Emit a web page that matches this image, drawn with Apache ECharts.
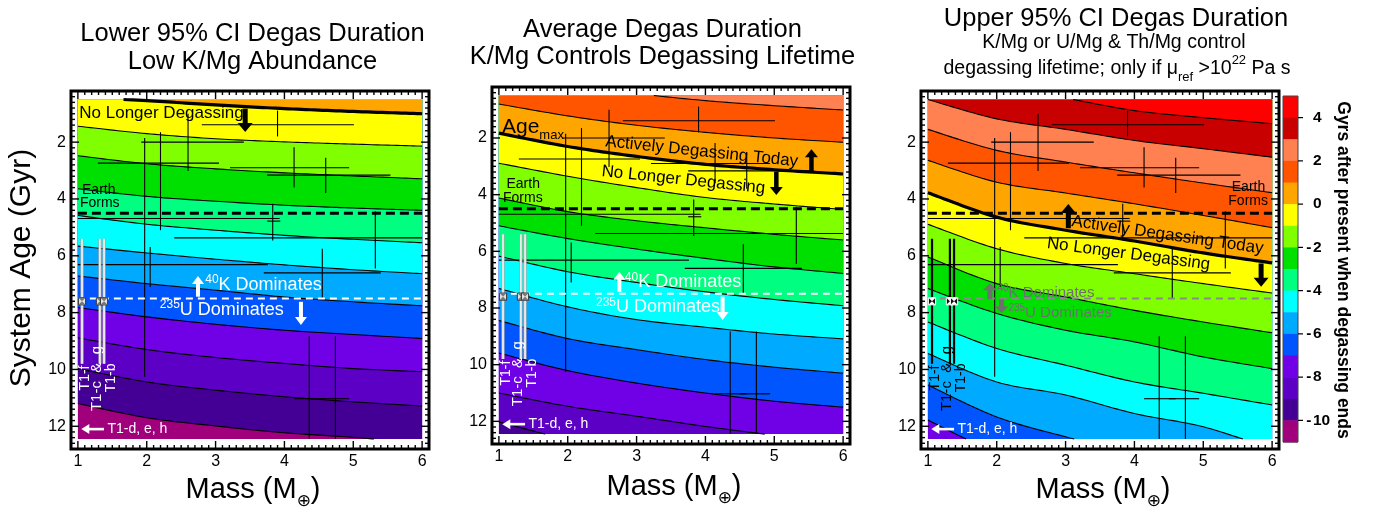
<!DOCTYPE html>
<html>
<head>
<meta charset="utf-8">
<script src="https://cdn.jsdelivr.net/npm/echarts@6/dist/echarts.min.js"></script>
<style>
  html, body { margin: 0; padding: 0; background: #ffffff; }
  #chart { width: 1383px; height: 512px; }
</style>
</head>
<body>
<div id="chart"></div>
<script>
// ---------------------------------------------------------------------------
// Data: degassing-lifetime contours (age in Gyr at each planet mass)
// ---------------------------------------------------------------------------
const masses = [1, 2, 3, 4, 5, 6];

// Lower 95% CI degas duration (low K/Mg abundance)
const lowerLevels = [0, -1, -2, -3, -4, -5, -6, -7, -8, -9, -10];
const lowerAges = [
  [0.43, 0.54, 0.69, 0.82, 0.92, 1.00],
  [1.44, 1.70, 1.88, 1.99, 2.07, 2.14],
  [2.48, 2.76, 2.94, 3.08, 3.19, 3.29],
  [3.64, 3.91, 4.08, 4.22, 4.32, 4.40],
  [4.58, 4.89, 5.10, 5.28, 5.42, 5.54],
  [5.66, 5.90, 6.12, 6.32, 6.49, 6.63],
  [6.71, 6.98, 7.21, 7.45, 7.62, 7.76],
  [7.82, 8.15, 8.41, 8.62, 8.77, 8.91],
  [8.89, 9.30, 9.58, 9.79, 9.97, 10.08],
  [9.97, 10.44, 10.73, 10.96, 11.14, 11.29],
  [11.20, 11.70, 11.99, 12.23, 12.39, 12.60]
];

// Average degas duration (K/Mg controls degassing lifetime)
const averageLevels = [2, 1, 0, -1, -2, -3, -4, -5, -6, -7, -8, -9];
const averageAges = [
  [-0.20, 0.10, 0.43, 0.68, 0.86, 1.01],
  [0.80, 1.22, 1.55, 1.80, 2.00, 2.15],
  [1.83, 2.30, 2.65, 2.93, 3.12, 3.27],
  [2.89, 3.35, 3.75, 4.10, 4.33, 4.52],
  [4.12, 4.60, 4.92, 5.17, 5.40, 5.60],
  [5.10, 5.55, 5.92, 6.25, 6.55, 6.78],
  [6.17, 6.72, 7.10, 7.43, 7.70, 7.92],
  [7.31, 7.96, 8.41, 8.68, 8.92, 9.09],
  [8.44, 9.08, 9.47, 9.82, 10.09, 10.30],
  [9.59, 10.21, 10.65, 11.00, 11.29, 11.50],
  [11.00, 11.47, 11.82, 12.18, 12.49, 12.75],
  [12.02, 12.65, 13.20, 13.60, 14.00, 14.30]
];

// Upper 95% CI degas duration
const upperLevels = [4, 3, 2, 1, 0, -1, -2, -3, -4, -5, -6, -7];
const upperAges = [
  [-0.50, 0.00, 0.45, 0.89, 1.14, 1.35],
  [0.50, 1.18, 1.55, 1.94, 2.23, 2.53],
  [1.55, 2.29, 2.70, 3.08, 3.44, 3.78],
  [2.64, 3.41, 3.79, 4.17, 4.58, 5.01],
  [3.78, 4.64, 5.10, 5.48, 5.90, 6.25],
  [4.89, 5.75, 6.27, 6.63, 6.98, 7.31],
  [6.04, 6.98, 7.45, 7.92, 8.33, 8.71],
  [7.15, 8.03, 8.62, 9.03, 9.56, 9.97],
  [8.33, 9.26, 9.85, 10.44, 10.84, 11.25],
  [9.44, 10.44, 10.90, 11.55, 12.02, 12.80],
  [10.55, 11.67, 12.37, 12.95, 13.40, 13.80],
  [11.78, 12.95, 13.80, 14.50, 15.00, 15.50]
];

// Colour bar: lower bound of each 1-Gyr band, and labelled values
const colorbarLows = [4, 3, 2, 1, 0, -1, -2, -3, -4, -5, -6, -7, -8, -9, -10, -11];
const colorbarTicks = [4, 2, 0, -2, -4, -6, -8, -10];

// Axis tick labels
const massTicks = [1, 2, 3, 4, 5, 6];
const ageTicks = [2, 4, 6, 8, 10, 12];

// Rocky exoplanets: mass (Earth masses) and system age (Gyr) with error ranges
const planetMass     = [3.90, 2.60, 2.20, 1.97, 2.05, 4.14, 4.60, 3.83, 5.32, 4.55, 4.36, 4.74];
const planetMassLow  = [2.80, 1.29, 1.92, 1.00, 1.00, 3.21, 3.75, 3.75, 2.40, 3.70, 4.14, 4.50];
const planetMassHigh = [5.01, 3.05, 3.41, 3.93, 3.76, 4.94, 5.54, 3.94, 6.00, 5.40, 4.60, 4.94];
const planetAge      = [1.39, 2.74, 2.00, 4.69, 6.31, 2.90, 3.16, 4.78, 5.37, 6.60, 11.03, 11.03];
const planetAgeLow   = [0.89, 1.00, 1.65, 1.85, 5.69, 2.18, 2.55, 4.17, 4.43, 5.75, 8.83, 8.83];
const planetAgeHigh  = [1.80, 3.02, 5.10, 10.26, 7.10, 3.60, 3.79, 5.46, 6.45, 7.50, 12.50, 12.50];

// TRAPPIST-1 planets f, c & g, b
const trappistMass    = [1.06, 1.32, 1.38];
const trappistAge     = [7.6, 7.6, 7.6];
const trappistAgeLow  = [5.4, 5.4, 5.4];
const trappistAgeHigh = [9.8, 9.8, 9.8];

const earthFormsAge = 4.5;     // Gyr ago the Earth formed
const crossoverAge = 7.5;      // 40K / 235U dominance switch

// ---------------------------------------------------------------------------
// Styling
// ---------------------------------------------------------------------------
const FONT = '"Liberation Sans", Arial, Helvetica, sans-serif';
// colours for bands [4,5], [3,4], ... [-11,-10]
const palette = ['#ff0000', '#c80000', '#ff8050', '#ff5500', '#ffa500', '#ffff00',
                 '#80ff00', '#00e000', '#00ff80', '#00ffff', '#00aaff', '#0055ff',
                 '#7000e6', '#5c00c6', '#440094', '#a0007c'];
function bandColor(low) { return palette[4 - low]; }

const DATA_X = [1, 6];
const DATA_Y = [0.5, 12.45];

// Catmull-Rom curve through pixel points
function smoothPath(pts, steps) {
  const out = [];
  for (let i = 0; i < pts.length - 1; i++) {
    const p0 = pts[Math.max(i - 1, 0)], p1 = pts[i], p2 = pts[i + 1], p3 = pts[Math.min(i + 2, pts.length - 1)];
    for (let s = 0; s < steps; s++) {
      const t = s / steps, t2 = t * t, t3 = t2 * t;
      const f = (a, b, c, d) => 0.5 * (2 * b + (-a + c) * t + (2 * a - 5 * b + 4 * c - d) * t2 + (-a + 3 * b - 3 * c + d) * t3);
      out.push([f(p0[0], p1[0], p2[0], p3[0]), f(p0[1], p1[1], p2[1], p3[1])]);
    }
  }
  out.push(pts[pts.length - 1].slice());
  return out;
}

// split a polyline into the parts lying between two horizontal pixel rows
function clipY(pts, y0, y1) {
  const out = [];
  let cur = [];
  const inside = p => p[1] >= y0 && p[1] <= y1;
  for (let i = 0; i < pts.length; i++) {
    const p = pts[i], pin = inside(p);
    if (i > 0) {
      const q = pts[i - 1], qin = inside(q);
      if (pin !== qin) {
        const yb = pin ? (q[1] < y0 ? y0 : y1) : (p[1] < y0 ? y0 : y1);
        const t = (yb - q[1]) / (p[1] - q[1]);
        const ip = [q[0] + t * (p[0] - q[0]), yb];
        if (pin) { cur = [ip]; } else { cur.push(ip); if (cur.length > 1) out.push(cur); cur = []; }
      }
    }
    if (pin) cur.push(p);
  }
  if (cur.length > 1) out.push(cur);
  return out;
}

function contourPixels(api, row) {
  return smoothPath(masses.map((m, j) => api.coord([m, row[j]])), 16);
}

function dataRect(api) {
  return [api.coord([DATA_X[0], DATA_Y[0]]), api.coord([DATA_X[1], DATA_Y[1]])];
}

function renderBands(api, levels, ages) {
  const [tl, br] = dataRect(api);
  const kids = [{
    type: 'rect',
    shape: { x: tl[0], y: tl[1], width: br[0] - tl[0], height: br[1] - tl[1] },
    style: { fill: bandColor(levels[levels.length - 1] - 1) }
  }];
  for (let k = levels.length - 1; k >= 0; k--) {
    const curve = contourPixels(api, ages[k]).map(p => [p[0], Math.min(Math.max(p[1], tl[1]), br[1])]);
    kids.push({
      type: 'polygon',
      shape: { points: [[tl[0], tl[1]]].concat(curve, [[br[0], tl[1]]]) },
      style: { fill: bandColor(levels[k]) }
    });
  }
  return { type: 'group', children: kids };
}

function renderContours(api, levels, ages) {
  const [tl, br] = dataRect(api);
  const kids = [];
  levels.forEach((lv, k) => {
    clipY(contourPixels(api, ages[k]), tl[1], br[1]).forEach(piece => {
      kids.push({
        type: 'polyline',
        shape: { points: piece },
        style: { fill: 'none', stroke: '#000', lineWidth: lv === 0 ? 3.2 : 1.1 }
      });
    });
  });
  return { type: 'group', children: kids };
}

function seg(api, a, b, style) {
  const p = api.coord(a), q = api.coord(b);
  return { type: 'line', shape: { x1: p[0], y1: p[1], x2: q[0], y2: q[1] }, style: style };
}

function clampX(v) { return Math.min(Math.max(v, DATA_X[0]), DATA_X[1]); }
function clampY(v) { return Math.min(Math.max(v, DATA_Y[0]), DATA_Y[1]); }

function renderPlanets(api) {
  const kids = [];
  const st = { stroke: '#000', lineWidth: 1.1 };
  planetMass.forEach((m, i) => {
    kids.push(seg(api, [clampX(planetMassLow[i]), planetAge[i]], [clampX(planetMassHigh[i]), planetAge[i]], st));
    kids.push(seg(api, [m, clampY(planetAgeLow[i])], [m, clampY(planetAgeHigh[i])], st));
  });
  return { type: 'group', children: kids };
}

function renderGuides(api, crossColor) {
  return {
    type: 'group', children: [
      seg(api, [DATA_X[0], earthFormsAge], [DATA_X[1], earthFormsAge], { stroke: '#000', lineWidth: 3, lineDash: [9, 5] }),
      seg(api, [DATA_X[0], crossoverAge], [DATA_X[1], crossoverAge], { stroke: crossColor, lineWidth: 2, lineDash: [7, 5] })
    ]
  };
}

function renderTrappist(api, dark) {
  const kids = [];
  trappistMass.forEach((m, i) => {
    const a = [m, trappistAgeLow[i]], b = [m, trappistAgeHigh[i]];
    if (dark) {
      kids.push(seg(api, a, b, { stroke: '#000', lineWidth: 2.2 }));
    } else {
      kids.push(seg(api, a, b, { stroke: '#a8a8a8', lineWidth: 3.2 }));
      kids.push(seg(api, a, b, { stroke: '#ffffff', lineWidth: 1.4 }));
    }
  });
  trappistMass.forEach((m, i) => {
    const p = api.coord([m, trappistAge[i]]);
    const r = 3.6;
    kids.push({
      type: 'rect', shape: { x: p[0] - r, y: p[1] - r, width: 2 * r, height: 2 * r },
      style: { fill: dark ? '#111' : '#e2e2e2', stroke: dark ? '#fff' : '#333', lineWidth: 1 }
    });
    kids.push({
      type: 'polygon',
      shape: { points: [[p[0] - r, p[1] - r], [p[0] + r, p[1] - r], [p[0] - r, p[1] + r], [p[0] + r, p[1] + r]] },
      style: { fill: dark ? '#fff' : '#777' }
    });
  });
  return { type: 'group', children: kids };
}

function label(api, m, a, text, o) {
  const p = api.coord([m, a]);
  const color = o.color || '#000';
  return {
    type: 'text', x: p[0], y: p[1], rotation: o.rotation || 0,
    style: {
      text: text, fill: color, fontSize: o.size, fontFamily: FONT, fontWeight: o.weight || 'normal',
      align: o.align || 'left', verticalAlign: 'middle', rich: o.rich
    }
  };
}

function superLabel(api, m, a, sup, main, color, size) {
  return label(api, m, a, '{s|' + sup + '}{n|' + main + '}', {
    size: size, color: color,
    rich: {
      s: { fontSize: Math.round(size * 0.66), fontFamily: FONT, fill: color, verticalAlign: 'top' },
      n: { fontSize: size, fontFamily: FONT, fill: color, lineHeight: size + 4 }
    }
  });
}

function arrow(api, from, to, color, shaft, headW, headL) {
  const p0 = api.coord(from), p1 = api.coord(to);
  const dx = p1[0] - p0[0], dy = p1[1] - p0[1], len = Math.hypot(dx, dy);
  const ux = dx / len, uy = dy / len, nx = -uy, ny = ux;
  const bx = p1[0] - ux * headL, by = p1[1] - uy * headL;
  return {
    type: 'group', children: [
      { type: 'line', shape: { x1: p0[0], y1: p0[1], x2: bx + ux, y2: by + uy }, style: { stroke: color, lineWidth: shaft } },
      { type: 'polygon', shape: { points: [[p1[0], p1[1]], [bx + nx * headW / 2, by + ny * headW / 2], [bx - nx * headW / 2, by - ny * headW / 2]] }, style: { fill: color } }
    ]
  };
}

function trappistLabels(api, color) {
  const rot = Math.PI / 2;
  return [
    label(api, 1.10, 10.30, 'T1-f', { size: 14, color: color, rotation: rot, align: 'center' }),
    label(api, 1.28, 10.32, 'T1-c  &  g', { size: 15, color: color, rotation: rot, align: 'center' }),
    label(api, 1.48, 10.30, 'T1-b', { size: 14, color: color, rotation: rot, align: 'center' }),
    arrow(api, [1.38, 12.1], [1.05, 12.1], '#fff', 2.6, 10, 8),
    label(api, 1.43, 12.1, 'T1-d, e, h', { size: 14, color: '#fff' })
  ];
}

const ROT_AVG = -6 * Math.PI / 180;
const ROT_UP1 = -8.2 * Math.PI / 180;
const ROT_UP2 = -7.5 * Math.PI / 180;
const GREY = '#6f6f6f';

function notesLower(api) {
  return [
    label(api, 1.02, 0.99, 'No Longer Degassing', { size: 17 }),
    arrow(api, [3.43, 0.82], [3.43, 1.64], '#000', 5, 15, 9),
    label(api, 1.06, 3.68, 'Earth', { size: 14 }),
    label(api, 1.03, 4.16, 'Forms', { size: 14 }),
    superLabel(api, 2.85, 7.03, '40', 'K Dominates', '#fff', 18),
    arrow(api, [2.745, 7.44], [2.745, 6.71], '#fff', 4, 12, 8),
    superLabel(api, 2.19, 7.90, '235', 'U Dominates', '#fff', 18),
    arrow(api, [4.24, 7.62], [4.24, 8.44], '#fff', 4, 12, 8)
  ].concat(trappistLabels(api, '#fff'));
}

function notesAverage(api) {
  return [
    label(api, 1.045, 1.61, '{a|Age}{b|max}', {
      size: 21,
      rich: {
        a: { fontSize: 21, fontFamily: FONT, fill: '#000', lineHeight: 30 },
        b: { fontSize: 13, fontFamily: FONT, fill: '#000', verticalAlign: 'bottom' }
      }
    }),
    label(api, 3.946, 2.48, 'Actively Degassing Today', { size: 17, align: 'center', rotation: ROT_AVG }),
    label(api, 3.68, 3.48, 'No Longer Degassing', { size: 17, align: 'center', rotation: ROT_AVG }),
    arrow(api, [5.54, 3.19], [5.54, 2.40], '#000', 4.5, 13, 8),
    arrow(api, [5.03, 3.19], [5.03, 4.01], '#000', 4.5, 13, 8),
    label(api, 1.11, 3.63, 'Earth', { size: 14 }),
    label(api, 1.06, 4.13, 'Forms', { size: 14 }),
    superLabel(api, 2.83, 7.09, '40', 'K Dominates', '#fff', 18),
    arrow(api, [2.75, 7.43], [2.75, 6.72], '#fff', 4, 12, 8),
    superLabel(api, 2.41, 7.98, '235', 'U Dominates', '#fff', 18),
    arrow(api, [4.25, 7.60], [4.25, 8.42], '#fff', 4, 12, 8)
  ].concat(trappistLabels(api, '#fff'));
}

function notesUpper(api) {
  return [
    label(api, 5.90, 3.59, 'Earth', { size: 14, align: 'right' }),
    label(api, 5.94, 4.06, 'Forms', { size: 14, align: 'right' }),
    arrow(api, [3.04, 5.03], [3.04, 4.18], '#000', 5, 15, 9),
    label(api, 4.48, 5.27, 'Actively Degassing Today', { size: 17, align: 'center', rotation: ROT_UP1 }),
    label(api, 3.915, 5.94, 'No Longer Degassing', { size: 17, align: 'center', rotation: ROT_UP2 }),
    arrow(api, [5.84, 6.27], [5.84, 7.09], '#000', 5, 15, 9),
    superLabel(api, 2.01, 7.30, '40', 'K Dominates', GREY, 15),
    arrow(api, [1.90, 7.53], [1.90, 6.97], GREY, 5, 14, 7),
    superLabel(api, 2.17, 8.02, '235', 'U Dominates', GREY, 15),
    arrow(api, [2.07, 7.53], [2.07, 8.02], GREY, 5, 14, 7)
  ].concat(trappistLabels(api, '#000'));
}

function renderFrame(api) {
  const p0 = api.coord([0.9, 0.2]), p1 = api.coord([6.1, 12.8]);
  const kids = [{
    type: 'rect', shape: { x: p0[0], y: p0[1], width: p1[0] - p0[0], height: p1[1] - p0[1] },
    style: { fill: 'none', stroke: '#000', lineWidth: 3 }
  }];
  const tick = { stroke: '#000', lineWidth: 1.4 };
  for (let i = 10; i <= 60; i++) {
    const v = i / 10, x = api.coord([v, 1])[0];
    const len = massTicks.indexOf(v) >= 0 ? 8 : 4;
    kids.push({ type: 'line', shape: { x1: x, y1: p1[1], x2: x, y2: p1[1] - len }, style: tick });
    kids.push({ type: 'line', shape: { x1: x, y1: p0[1], x2: x, y2: p0[1] + len }, style: tick });
  }
  for (let i = 2; i <= 63; i++) {
    const v = i / 5, y = api.coord([1, v])[1];
    const len = ageTicks.indexOf(v) >= 0 ? 8 : 4;
    kids.push({ type: 'line', shape: { x1: p0[0], y1: y, x2: p0[0] + len, y2: y }, style: tick });
    kids.push({ type: 'line', shape: { x1: p1[0], y1: y, x2: p1[0] - len, y2: y }, style: tick });
  }
  massTicks.forEach(v => {
    const x = api.coord([v, 1])[0];
    kids.push({ type: 'text', x: x, y: p1[1] + 13, style: { text: String(v), fill: '#000', fontSize: 16, fontFamily: FONT, align: 'center', verticalAlign: 'middle' } });
  });
  ageTicks.forEach(v => {
    const y = api.coord([1, v])[1];
    kids.push({ type: 'text', x: p0[0] - 5, y: y, style: { text: String(v), fill: '#000', fontSize: 16, fontFamily: FONT, align: 'right', verticalAlign: 'middle' } });
  });
  return { type: 'group', children: kids };
}

function renderColorbar(api) {
  const kids = [];
  colorbarLows.forEach(low => {
    const a = api.coord([0, low + 1]), b = api.coord([1, low]);
    kids.push({ type: 'rect', shape: { x: a[0], y: a[1], width: b[0] - a[0], height: b[1] - a[1] + 0.5 }, style: { fill: bandColor(low) } });
  });
  const t = api.coord([0, 5]), bt = api.coord([1, -11]);
  kids.push({ type: 'rect', shape: { x: t[0], y: t[1], width: bt[0] - t[0], height: bt[1] - t[1] }, style: { fill: 'none', stroke: '#444', lineWidth: 1 } });
  colorbarTicks.forEach(v => {
    const p = api.coord([1, v]);
    kids.push({ type: 'line', shape: { x1: p[0], y1: p[1], x2: p[0] + 5, y2: p[1] }, style: { stroke: '#000', lineWidth: 1.2 } });
    const digitX = p[0] + 15;
    kids.push({ type: 'text', x: digitX, y: p[1], style: { text: String(Math.abs(v)), fill: '#000', fontSize: 15.5, fontWeight: 'bold', fontFamily: FONT, align: 'left', verticalAlign: 'middle' } });
    if (v < 0) {
      kids.push({ type: 'text', x: digitX - 1.5, y: p[1], style: { text: '-', fill: '#000', fontSize: 15.5, fontWeight: 'bold', fontFamily: FONT, align: 'right', verticalAlign: 'middle' } });
    }
  });
  return { type: 'group', children: kids };
}

// ---------------------------------------------------------------------------
// Chart assembly
// ---------------------------------------------------------------------------
const grids = [
  { left: 71, top: 91, width: 358, height: 358 },
  { left: 492, top: 87, width: 358, height: 357 },
  { left: 921, top: 91, width: 358, height: 358 },
  { left: 1283, top: 96, width: 15, height: 346 }
];

const panels = [
  { levels: lowerLevels, ages: lowerAges, notes: notesLower, cross: '#ffffff', dark: false },
  { levels: averageLevels, ages: averageAges, notes: notesAverage, cross: '#ffffff', dark: false },
  { levels: upperLevels, ages: upperAges, notes: notesUpper, cross: '#8a8a8a', dark: true }
];

function layer(idx, fn, z) {
  return {
    type: 'custom', coordinateSystem: 'cartesian2d', xAxisIndex: idx, yAxisIndex: idx,
    data: idx === 3 ? [[0.5, 0]] : [[3.5, 6]], silent: true, animation: false, z: z, clip: false,
    renderItem: (params, api) => fn(api)
  };
}

const series = [];
panels.forEach((p, i) => {
  series.push(layer(i, api => renderBands(api, p.levels, p.ages), 1));
  series.push(layer(i, api => renderContours(api, p.levels, p.ages), 2));
  series.push(layer(i, api => renderPlanets(api), 3));
  series.push(layer(i, api => renderGuides(api, p.cross), 4));
  series.push(layer(i, api => renderTrappist(api, p.dark), 5));
  series.push(layer(i, api => ({ type: 'group', children: p.notes(api) }), 6));
  series.push(layer(i, api => renderFrame(api), 7));
});
series.push(layer(3, api => renderColorbar(api), 7));

const titleFont = 25.5;
const graphic = [
  { type: 'text', x: 252.5, y: 34, style: { text: 'Lower 95% CI Degas Duration', fontSize: titleFont, fontFamily: FONT, fill: '#000', align: 'center', verticalAlign: 'middle' } },
  { type: 'text', x: 252.5, y: 61.5, style: { text: 'Low K/Mg Abundance', fontSize: titleFont, fontFamily: FONT, fill: '#000', align: 'center', verticalAlign: 'middle' } },
  { type: 'text', x: 662.5, y: 29.5, style: { text: 'Average Degas Duration', fontSize: titleFont, fontFamily: FONT, fill: '#000', align: 'center', verticalAlign: 'middle' } },
  { type: 'text', x: 662.5, y: 56.5, style: { text: 'K/Mg Controls Degassing Lifetime', fontSize: titleFont, fontFamily: FONT, fill: '#000', align: 'center', verticalAlign: 'middle' } },
  { type: 'text', x: 1116, y: 18.5, style: { text: 'Upper 95% CI Degas Duration', fontSize: titleFont, fontFamily: FONT, fill: '#000', align: 'center', verticalAlign: 'middle' } },
  { type: 'text', x: 1114, y: 43, style: { text: 'K/Mg or U/Mg & Th/Mg control', fontSize: 19.5, fontFamily: FONT, fill: '#000', align: 'center', verticalAlign: 'middle' } },
  {
    type: 'text', x: 1117, y: 69,
    style: {
      text: '{n|degassing lifetime; only if μ}{b|ref}{n| >10}{p|22}{n| Pa s}',
      fontSize: 19.5, fontFamily: FONT, fill: '#000', align: 'center', verticalAlign: 'middle',
      rich: {
        n: { fontSize: 19.5, fontFamily: FONT, fill: '#000', lineHeight: 30 },
        b: { fontSize: 13, fontFamily: FONT, fill: '#000', verticalAlign: 'bottom' },
        p: { fontSize: 13, fontFamily: FONT, fill: '#000', verticalAlign: 'top' }
      }
    }
  },
  {
    type: 'text', x: 22, y: 268, rotation: Math.PI / 2,
    style: { text: 'System Age (Gyr)', fontSize: 30, fontFamily: FONT, fill: '#000', align: 'center', verticalAlign: 'middle' }
  },
  {
    type: 'text', x: 1343, y: 270, rotation: -Math.PI / 2,
    style: { text: 'Gyrs after present when degassing ends', fontSize: 17.5, fontWeight: 'bold', fontFamily: FONT, fill: '#000', align: 'center', verticalAlign: 'middle' }
  }
];
[253, 674, 1103].forEach((cx, i) => {
  graphic.push({
    type: 'text', x: cx, y: i === 1 ? 487 : 490,
    style: {
      text: '{n|Mass (M}{s|⊕}{n|)}', fontSize: 29, fontFamily: FONT, fill: '#000', align: 'center', verticalAlign: 'middle',
      rich: {
        n: { fontSize: 29, fontFamily: FONT, fill: '#000', lineHeight: 40 },
        s: { fontSize: 17, fontFamily: '"DejaVu Sans", ' + FONT, fill: '#000', verticalAlign: 'bottom' }
      }
    }
  });
});

const option = {
  animation: false,
  backgroundColor: '#ffffff',
  grid: grids,
  xAxis: [0, 1, 2].map(i => ({ gridIndex: i, type: 'value', min: 0.9, max: 6.1, show: false }))
    .concat([{ gridIndex: 3, type: 'value', min: 0, max: 1, show: false }]),
  yAxis: [0, 1, 2].map(i => ({ gridIndex: i, type: 'value', min: 0.2, max: 12.8, inverse: true, show: false }))
    .concat([{ gridIndex: 3, type: 'value', min: -11, max: 5, show: false }]),
  series: series,
  graphic: graphic
};

const chart = echarts.init(document.getElementById('chart'), null, { renderer: 'canvas' });
chart.setOption(option);
</script>
</body>
</html>
